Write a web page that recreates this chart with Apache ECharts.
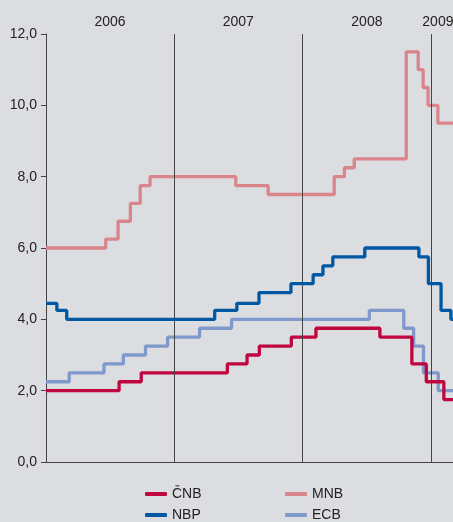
<!DOCTYPE html>
<html>
<head>
<meta charset="utf-8">
<script src="https://cdn.jsdelivr.net/npm/echarts@6/dist/echarts.min.js"></script>
<style>
  html, body { margin: 0; padding: 0; background: #dcdde0; }
  #chart { width: 453px; height: 522px; }
</style>
</head>
<body>
<div id="chart"></div>
<script>
// policy rates, [date of change, new rate]
const cnb = [
  ['2006-01-01', 2.00], ['2006-07-28', 2.25], ['2006-09-29', 2.50],
  ['2007-06-01', 2.75], ['2007-07-27', 3.00], ['2007-08-31', 3.25],
  ['2007-11-30', 3.50], ['2008-02-08', 3.75], ['2008-08-08', 3.50],
  ['2008-11-07', 2.75], ['2008-12-18', 2.25], ['2009-02-06', 1.75],
  ['2009-03-31', 1.75]
];
const mnb = [
  ['2006-01-01', 6.00], ['2006-06-20', 6.25], ['2006-07-25', 6.75],
  ['2006-08-29', 7.25], ['2006-09-26', 7.75], ['2006-10-24', 8.00],
  ['2007-06-25', 7.75], ['2007-09-25', 7.50], ['2008-03-31', 8.00],
  ['2008-04-29', 8.25], ['2008-05-27', 8.50], ['2008-10-22', 11.50],
  ['2008-11-25', 11.00], ['2008-12-09', 10.50], ['2008-12-23', 10.00],
  ['2009-01-20', 9.50], ['2009-03-31', 9.50]
];
const nbp = [
  ['2006-01-01', 4.45], ['2006-02-01', 4.25], ['2006-03-01', 4.00],
  ['2007-04-26', 4.25], ['2007-06-28', 4.45], ['2007-08-30', 4.75],
  ['2007-11-29', 5.00], ['2008-01-31', 5.25], ['2008-02-28', 5.50],
  ['2008-03-27', 5.75], ['2008-06-26', 6.00], ['2008-11-27', 5.75],
  ['2008-12-24', 5.00], ['2009-01-29', 4.25], ['2009-02-26', 4.00],
  ['2009-03-31', 4.00]
];
const ecb = [
  ['2006-01-01', 2.25], ['2006-03-08', 2.50], ['2006-06-15', 2.75],
  ['2006-08-09', 3.00], ['2006-10-11', 3.25], ['2006-12-13', 3.50],
  ['2007-03-14', 3.75], ['2007-06-13', 4.00], ['2008-07-09', 4.25],
  ['2008-10-15', 3.75], ['2008-11-12', 3.25], ['2008-12-10', 2.50],
  ['2009-01-21', 2.00], ['2009-03-31', 2.00]
];
const yearStarts = ['2007-01-01', '2008-01-01', '2009-01-01'];
const yearLabelDates = ['2006-07-02', '2007-07-02', '2008-07-02', '2009-01-20'];

const xMin = +new Date('2006-01-01');
const xMax = +new Date('2009-03-04');
const font = 'Liberation Sans, Arial, sans-serif';

const mkSeries = (name, data, color, z) => ({
  name: name,
  type: 'line',
  step: 'end',
  data: data,
  showSymbol: false,
  z: z,
  lineStyle: { width: 3.3, color: color },
  itemStyle: { color: color },
  emphasis: { disabled: true }
});

const series = [
  mkSeries('ČNB', cnb, '#c0063f', 4),
  mkSeries('MNB', mnb, '#d9858b', 3),
  mkSeries('NBP', nbp, '#0057a2', 5),
  mkSeries('ECB', ecb, '#7f99cc', 3)
];
// year boundary lines
series[0].markLine = {
  silent: true,
  symbol: 'none',
  label: { show: false },
  lineStyle: { color: '#444', width: 1, type: 'solid' },
  data: yearStarts.map(d => ({ xAxis: d }))
};

// one legend per item so the 2x2 layout is exact
const legendItem = (name, left, top) => ({
  data: [name],
  left: left,
  top: top,
  itemWidth: 22,
  itemHeight: 4,
  icon: 'roundRect',
  selectedMode: false,
  textStyle: { fontFamily: font, fontSize: 14, color: '#222' }
});

const chart = echarts.init(document.getElementById('chart'));
chart.setOption({
  backgroundColor: '#dcdde0',
  animation: false,
  grid: {
    left: 46, right: 0, top: 34, bottom: 60,
    containLabel: false,
    outerBoundsMode: 'none'
  },
  legend: [
    legendItem('ČNB', 140, 482),
    legendItem('MNB', 280, 482),
    legendItem('NBP', 140, 503),
    legendItem('ECB', 280, 503)
  ],
  xAxis: [
    {
      type: 'time',
      min: xMin,
      max: xMax,
      axisLine: { show: true, onZero: false, lineStyle: { color: '#444', width: 1 } },
      axisTick: { show: false },
      axisLabel: { show: false },
      splitLine: { show: false }
    },
    {
      type: 'value',
      position: 'top',
      min: xMin,
      max: xMax,
      axisLine: { show: false },
      axisTick: { show: false },
      splitLine: { show: false },
      axisLabel: {
        show: true,
        customValues: yearLabelDates.map(d => +new Date(d)),
        formatter: v => String(new Date(v).getFullYear()),
        margin: 5,
        fontFamily: font,
        fontSize: 14,
        color: '#222',
        hideOverlap: false
      }
    }
  ],
  yAxis: {
    type: 'value',
    min: 0,
    max: 12,
    interval: 2,
    axisLine: { show: true, lineStyle: { color: '#444', width: 1 } },
    axisTick: { show: true, length: 5, lineStyle: { color: '#444' } },
    splitLine: { show: false },
    axisLabel: {
      margin: 9,
      fontFamily: font,
      fontSize: 14,
      color: '#222',
      formatter: v => v.toFixed(1).replace('.', ',')
    }
  },
  series: series
});
</script>
</body>
</html>
